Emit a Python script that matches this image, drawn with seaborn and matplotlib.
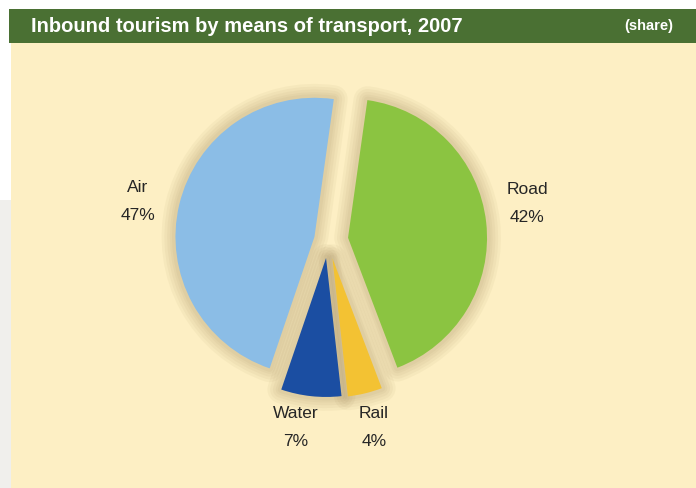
import matplotlib
matplotlib.use("Agg")
import matplotlib.pyplot as plt
import seaborn as sns
from matplotlib.patches import Rectangle

# Data
modes = ["Air", "Water", "Rail", "Road"]
shares = [47, 7, 4, 42]
pct_labels = ["47%", "7%", "4%", "42%"]
explode = [0.10, 0.13, 0.135, 0.145]   # fraction of radius
colors = ["#8bbde6", "#1b4ea2", "#f3c233", "#8bc441"]

title = "Inbound tourism by means of transport, 2007"
unit = "(share)"

sns.set_theme(style="white")
plt.rcParams["font.family"] = ["Liberation Sans", "DejaVu Sans"]

fig = plt.figure(figsize=(6.96, 4.88), dpi=100)
fig.patch.set_facecolor("white")
ax = fig.add_axes([0, 0, 1, 1])
ax.set_axis_off()

W, H = 696, 488
# panel background and header
ax.add_patch(Rectangle((11, 0), W - 11, H - 43, facecolor="#fdefc4", edgecolor="none", zorder=0))
ax.add_patch(Rectangle((0, 0), 11, H - 200, facecolor="#f0efec", edgecolor="none", zorder=0))
ax.add_patch(Rectangle((9, H - 43), W - 9, 34, facecolor="#4a7033", edgecolor="none", zorder=0))
ax.text(31, H - 26, title, color="white", fontsize=14.5, fontweight="bold",
        va="center", ha="left", zorder=5)
ax.text(673, H - 26, unit, color="white", fontsize=10.5, fontweight="bold",
        va="center", ha="right", zorder=5)

center = (328, H - 240)
radius = 139
start = 82
offsets = [e * radius for e in explode]

# soft shadow around the wedges
for lw in [20, 16, 12, 8, 5]:
    ax.pie(shares, explode=offsets, startangle=start, center=center, radius=radius,
           frame=True, colors=["none"] * 4,
           wedgeprops=dict(edgecolor=(0.55, 0.44, 0.26, 0.055), linewidth=lw,
                           joinstyle="round", zorder=1))

wedges, _ = ax.pie(shares, explode=offsets, startangle=start, center=center,
                   radius=radius, colors=colors, frame=True,
                   wedgeprops=dict(edgecolor="none", zorder=3))

ax.set_xlim(0, W)
ax.set_ylim(0, H)
ax.set_aspect("equal")
ax.set_axis_off()

# category labels
label_pos = {"Air": (138, 187), "Water": (296, 413), "Rail": (374, 413), "Road": (527, 190)}
for name, pct in zip(modes, pct_labels):
    x, y = label_pos[name]
    ax.text(x, H - y, name, fontsize=12.5, color="#262626", ha="center", va="center", zorder=5)
    ax.text(x, H - y - 28, pct, fontsize=12.5, color="#262626", ha="center", va="center", zorder=5)

fig.savefig("out.png", dpi=100, facecolor=fig.get_facecolor())
